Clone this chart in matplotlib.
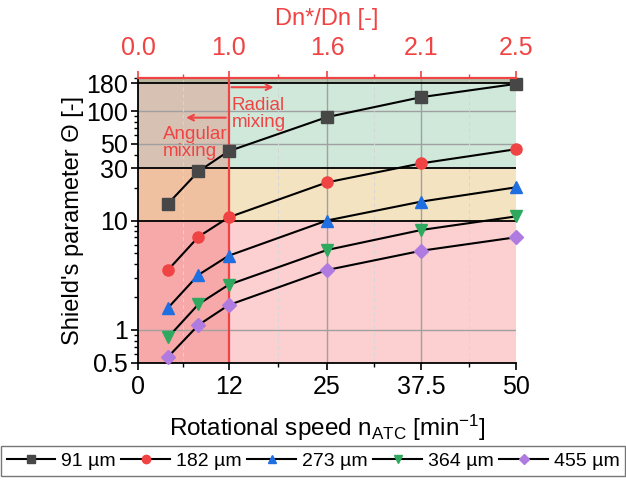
import numpy as np
import matplotlib.pyplot as plt
from matplotlib.ticker import FixedLocator, NullFormatter, LogLocator

plt.rcParams['font.family'] = ['Liberation Sans', 'DejaVu Sans']
plt.rcParams['mathtext.fontset'] = 'custom'
plt.rcParams['mathtext.rm'] = 'Liberation Sans'
plt.rcParams['mathtext.it'] = 'Liberation Sans:italic'

speed = [4, 8, 12, 25, 37.5, 50]
theta_91 = [14.3, 28.1, 43, 88, 134, 177]
theta_182 = [3.55, 7.1, 10.7, 22.3, 33.3, 44.8]
theta_273 = [1.6, 3.19, 4.77, 10.0, 14.9, 20.1]
theta_364 = [0.86, 1.72, 2.59, 5.38, 8.2, 10.9]
theta_455 = [0.57, 1.11, 1.69, 3.53, 5.3, 7.03]

labels = ['91 µm', '182 µm', '273 µm', '364 µm', '455 µm']
colors = ['#474747', '#f04343', '#1f6fe0', '#2fa860', '#b07be0']
markers = ['s', 'o', '^', 'v', 'D']

x_ticks = [0, 12, 25, 37.5, 50]
x_ticklabels = ['0', '12', '25', '37.5', '50']
top_ticklabels = ['0.0', '1.0', '1.6', '2.1', '2.5']
y_ticks = [0.5, 1, 10, 30, 50, 100, 180]
y_ticklabels = ['0.5', '1', '10', '30', '50', '100', '180']

fig = plt.figure(figsize=(6.26, 4.82), dpi=100)
ax = fig.add_axes([0.2204, 0.247, 0.6038, 0.591])

ymin, ymax = 0.5, 200
ax.set_xlim(0, 50)
ax.set_yscale('log')
ax.set_ylim(ymin, ymax)

# regimes
ax.fill_between([12, 50], ymin, 10, color='#fccfd0', lw=0, zorder=0)
ax.fill_between([12, 50], 10, 30, color='#f3e3c0', lw=0, zorder=0)
ax.fill_between([12, 50], 30, 180, color='#cfe8da', lw=0, zorder=0)
ax.fill_between([12, 50], 180, ymax, color='#b2c2ae', lw=0, zorder=0)
ax.fill_between([0, 12], ymin, 10, color='#f6a9a8', lw=0, zorder=0)
ax.fill_between([0, 12], 10, 30, color='#f0c1a1', lw=0, zorder=0)
ax.fill_between([0, 12], 30, 180, color='#d7c1b3', lw=0, zorder=0)
ax.fill_between([0, 12], 180, ymax, color='#b8b49e', lw=0, zorder=0)

for yv in [1, 50, 100]:
    ax.axhline(yv, color='#a0a0a0', lw=1, zorder=1)
for xv in [25, 37.5]:
    ax.axvline(xv, color='#a0a0a0', lw=1, zorder=1)
for xv in [6, 18.5, 31.25, 43.75]:
    ax.axvline(xv, color='#d6d6d6', lw=0.7, ls=(0, (4, 3)), zorder=1)
for yv in [10, 30, 180]:
    ax.axhline(yv, color='black', lw=1.3, zorder=2)
ax.axvline(12, color='#f04343', lw=1.6, zorder=2)

series = [theta_91, theta_182, theta_273, theta_364, theta_455]
for vals, lab, c, m in zip(series, labels, colors, markers):
    ax.plot(speed, vals, color='black', lw=1.5, marker=m, ms=8 if m != 'D' else 7,
            mfc=c, mec=c, label=lab, zorder=4, clip_on=False)

# annotations
red = '#f04343'
ax.annotate('', xy=(18.3, 165), xytext=(12, 165),
            arrowprops=dict(arrowstyle='->', color=red, lw=1.5), zorder=5)
ax.annotate('', xy=(6.0, 87), xytext=(12, 87),
            arrowprops=dict(arrowstyle='->', color=red, lw=1.5), zorder=5)
ax.text(12.4, 94, 'Radial\nmixing', color=red, fontsize=13.5, ha='left', va='center',
        linespacing=1.0, zorder=5)
ax.text(3.3, 51, 'Angular\nmixing', color=red, fontsize=13.5, ha='left', va='center',
        linespacing=1.0, zorder=5)

ax.set_xticks(x_ticks)
ax.set_xticklabels(x_ticklabels)
ax.xaxis.set_minor_locator(FixedLocator([6, 18.5, 31.25, 43.75]))
ax.yaxis.set_major_locator(FixedLocator(y_ticks))
ax.set_yticklabels(y_ticklabels)
ax.yaxis.set_minor_locator(LogLocator(base=10, subs=np.arange(2, 10)))
ax.yaxis.set_minor_formatter(NullFormatter())
ax.tick_params(axis='both', which='major', direction='out', length=5, width=1.2,
               labelsize=18, colors='black')
ax.tick_params(axis='y', which='major', pad=2)
ax.tick_params(axis='both', which='minor', direction='out', length=3, width=1)
ax.spines['right'].set_visible(False)
ax.spines['top'].set_visible(False)
for s in ['left', 'bottom']:
    ax.spines[s].set_linewidth(1.3)

ax.set_xlabel('Rotational speed n$_\\mathrm{ATC}$ [min$^{-1}$]', fontsize=17.5, labelpad=10)
ax.set_ylabel("Shield's parameter Θ [-]", fontsize=17, labelpad=2)

top = ax.twiny()
top.set_xlim(0, 50)
top.set_xticks(x_ticks)
top.set_xticklabels(top_ticklabels)
top.xaxis.set_minor_locator(FixedLocator([6, 18.5, 31.25, 43.75]))
top.tick_params(axis='x', which='major', direction='out', length=5, width=1.2,
                colors=red, labelsize=18, pad=8)
top.tick_params(axis='x', which='minor', direction='out', length=3, width=1, colors=red)
top.spines['top'].set_color(red)
top.spines['top'].set_linewidth(1.6)
for s in ['left', 'right', 'bottom']:
    top.spines[s].set_visible(False)
top.set_xlabel('Dn*/Dn [-]', color=red, fontsize=17, labelpad=8)

handles, labs = ax.get_legend_handles_labels()
leg = fig.legend(handles, labs, loc='lower center', bbox_to_anchor=(0.5, 0.005), ncol=5,
                 fontsize=14, frameon=True, fancybox=False, edgecolor='#555555',
                 handlelength=2.5, handletextpad=0.3, columnspacing=0.3,
                 borderpad=0.3, borderaxespad=0.2, markerscale=0.75)
leg.get_frame().set_linewidth(1)

fig.savefig('out.png', dpi=100)
